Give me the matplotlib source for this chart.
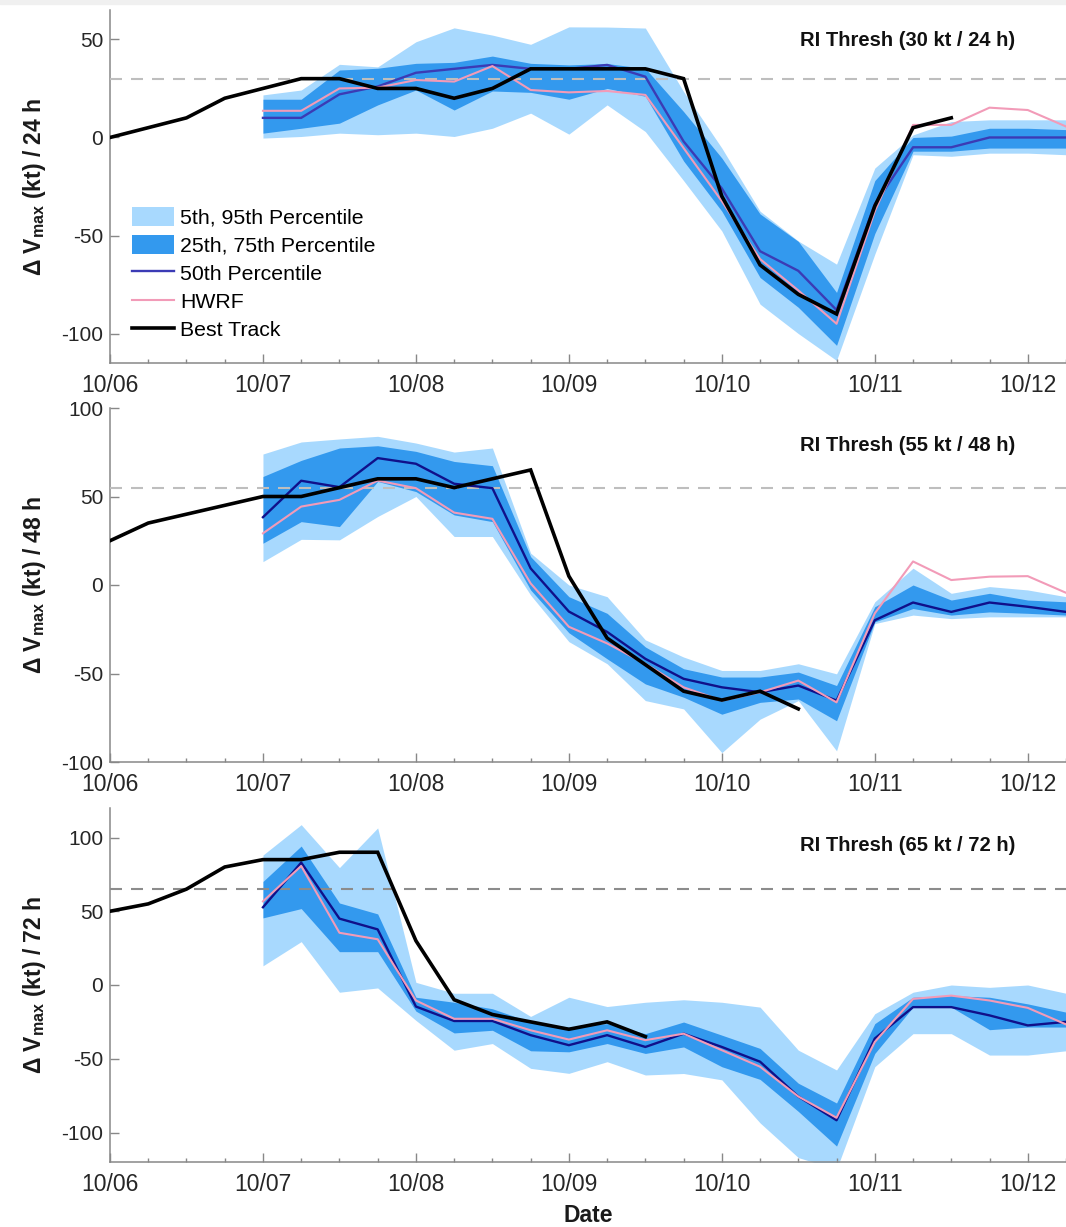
import numpy as np
import matplotlib
matplotlib.use("Agg")
import matplotlib.pyplot as plt
from matplotlib.patches import Patch, Rectangle
from matplotlib.lines import Line2D

plt.rcParams['font.family'] = ['Liberation Sans', 'DejaVu Sans']
plt.rcParams['mathtext.fontset'] = 'custom'
plt.rcParams['mathtext.rm'] = 'Liberation Sans'
plt.rcParams['mathtext.bf'] = 'Liberation Sans:bold'
plt.rcParams['mathtext.it'] = 'Liberation Sans:italic'
plt.rcParams['lines.scale_dashes'] = False

# ---------------- data ----------------
day_labels = ['10/06', '10/07', '10/08', '10/09', '10/10', '10/11', '10/12']
step_days = 0.25          # 6-hourly
ens_start_day = 1.0       # ensemble starts 10/07 00Z
best_start_day = 0.0

# Panel 1: 24 h
best_24 = [0, 5, 10, 20, 25, 30, 30, 25, 25, 20, 25, 35, 35, 35, 35, 30, -30, -65, -80, -90, -35, 5, 10]
p50_24 = [10, 10, 22, 26, 33, 35, 37, 35, 35, 37, 31, -2, -26, -58, -68, -88, -34, -5, -5, 0, 0, 0]
hwrf_24 = [13.6, 13.6, 25, 25.4, 29.3, 28.5, 36.4, 24.2, 23, 23.7, 21.7, -5.4, -32.5, -62, -78, -95, -37.6, 6.4, 6.4, 15.2, 14, 5.6]
p75_24 = [19.5, 19.5, 34.4, 35.3, 37.8, 38.3, 41.5, 37.8, 37, 37.7, 35.2, 13.2, -10.5, -39, -53, -79, -22, 0, 0.7, 4.7, 4.7, 4]
p25_24 = [2.2, 4.7, 7.3, 16.6, 24.2, 14, 23.7, 23, 19.5, 25, 21, -12, -37.6, -71.4, -86.6, -106, -49, -7, -7, -5.4, -5.4, -5.4]
p95_24 = [21.7, 24.2, 37.3, 36, 48.8, 55.9, 52.2, 47.5, 56.4, 56.3, 55.8, 23.4, -5.4, -37.6, -52.8, -64.6, -15.6, 1.3, 8.1, 9, 9, 9]
p05_24 = [-0.3, 0.5, 2.2, 1.4, 2.2, 0.5, 4.7, 12.4, 1.7, 16.6, 3, -22, -47.7, -85, -100, -113.7, -59.5, -8.8, -9.6, -8, -8, -8.8]

# Panel 2: 48 h
best_48 = [25, 35, 40, 45, 50, 50, 55, 60, 60, 55, 60, 65, 5, -30, -45, -60, -65, -60, -70]
p50_48 = [38.3, 58.9, 55.3, 71.7, 68.5, 57.2, 54.7, 9.4, -15, -26.5, -41.7, -53, -57.8, -60.6, -56.8, -65.3, -19.9, -9.9, -15.2, -9.9, -12.3, -15.2]
hwrf_48 = [29.2, 44.3, 48.1, 59, 54.7, 40.9, 37.4, 0.9, -23.6, -33, -44.5, -57.8, -65.3, -60.6, -54, -66.3, -16, 13.3, 2.8, 4.7, 5, -4.4]
p75_48 = [61.3, 70.4, 77.4, 78.7, 75.5, 69.8, 67.4, 16, -6.6, -16, -35, -47.3, -52, -52, -49.2, -56.8, -12.3, 0, -8.5, -4.7, -8.5, -9.5]
p25_48 = [23.6, 35.8, 33, 58.5, 52.8, 39.6, 35.8, -2.8, -27, -41.7, -55.9, -63.4, -73, -66.3, -64.4, -76.7, -20.8, -13.3, -17, -15.2, -16, -17]
p95_48 = [74, 80.8, 82.5, 84, 80.2, 75.1, 77.4, 18, 0, -6.6, -31, -40.7, -48.3, -48.3, -44.5, -50.2, -9.5, 9.5, -4.7, -0.9, -2.8, -6.6]
p05_48 = [13.2, 25.8, 25.5, 38.7, 50, 27.4, 27.4, -5.7, -32, -44.5, -65.3, -70, -94.7, -75.8, -65.3, -93.7, -21.8, -17, -19, -18, -18, -18]

# Panel 3: 72 h
best_72 = [50, 55, 65, 80, 85, 85, 90, 90, 30, -10, -20, -25, -30, -25, -35]
p50_72 = [52.7, 83, 45, 37.7, -14.6, -24.4, -24.4, -34, -40.8, -34, -42, -33, -42, -52, -75.6, -91.7, -36.3, -15, -15, -20.6, -27.4, -25]
hwrf_72 = [56.7, 80.7, 35.4, 31, -10.5, -22.9, -22.9, -30.7, -37, -30.7, -37.4, -33, -44.2, -55.4, -75.6, -90, -38.6, -9.4, -7.2, -10.5, -15.5, -26.7]
p75_72 = [70.2, 94.2, 55.6, 48.2, -8.3, -11.7, -16.1, -25.1, -28.5, -26.2, -33, -25.1, -34, -43, -66.6, -80, -26.2, -8.3, -7.2, -8.3, -12.8, -18.4]
p25_72 = [45.5, 51.8, 22.6, 22.6, -17.7, -32.5, -30.7, -44.6, -45.3, -39.7, -46.4, -42, -55.4, -64, -85.7, -109.2, -46.4, -15, -15, -30.3, -28.5, -28.5]
p95_72 = [88.1, 108.7, 79.6, 106.5, 1.8, -5.6, -5.6, -21.3, -8.3, -14.6, -11.7, -10, -11.7, -15, -44.2, -57.6, -19.5, -4.9, 0, -1.6, 0, -5.6]
p05_72 = [13, 29.4, -4.9, -2, -24, -44.2, -39.7, -56.5, -59.9, -52, -61, -60, -64.3, -93.5, -117, -125, -55.4, -33, -33, -47.5, -47.5, -44.6]

thresholds = [30, 55, 65]
thresh_labels = ['RI Thresh (30 kt / 24 h)', 'RI Thresh (55 kt / 48 h)', 'RI Thresh (65 kt / 72 h)']
ylabels = ['Δ V$_{\\mathbf{max}}$ (kt) / 24 h', 'Δ V$_{\\mathbf{max}}$ (kt) / 48 h', 'Δ V$_{\\mathbf{max}}$ (kt) / 72 h']
ylims = [(-115, 65), (-100, 100), (-120, 120)]
yticks = [[-100, -50, 0, 50], [-100, -50, 0, 50, 100], [-100, -50, 0, 50, 100]]
legend_labels = ['5th, 95th Percentile', '25th, 75th Percentile', '50th Percentile', 'HWRF', 'Best Track']

# ---------------- style ----------------
c_light = '#A8D9FE'
c_dark = '#3399EE'
c_p50 = ['#3B3BB5', '#10108A', '#10108A']
c_hwrf = '#F29BB8'
c_best = '#000000'
c_thresh = ['#BEBEBE', '#BEBEBE', '#8C8C8C']
c_axis = '#888888'

W, H = 1066, 1227
fig = plt.figure(figsize=(W / 100, H / 100), dpi=100)
fig.patches.append(Rectangle((0, 1 - 4 / H), 1, 4 / H, transform=fig.transFigure,
                             color='#F0F0F0', zorder=0))

panel_px = [(10, 363), (408, 762), (808, 1162)]
ax_left, ax_right = 110, 1066
thresh_text_y = [0.915, 0.895, 0.895]

panels = [
    (best_24, p50_24, hwrf_24, p25_24, p75_24, p05_24, p95_24),
    (best_48, p50_48, hwrf_48, p25_48, p75_48, p05_48, p95_48),
    (best_72, p50_72, hwrf_72, p25_72, p75_72, p05_72, p95_72),
]

for i, (best, p50, hwrf, p25, p75, p05, p95) in enumerate(panels):
    top, bot = panel_px[i]
    ax = fig.add_axes([ax_left / W, 1 - bot / H, (ax_right - ax_left) / W, (bot - top) / H])
    xe = ens_start_day + step_days * np.arange(len(p50))
    xb = best_start_day + step_days * np.arange(len(best))

    ax.fill_between(xe, p05, p95, color=c_light, lw=0, zorder=1)
    ax.fill_between(xe, p25, p75, color=c_dark, lw=0, zorder=2)
    ax.axhline(thresholds[i], color=c_thresh[i], lw=1.5, dashes=(12 * 0.72, 9 * 0.72), zorder=3)
    ax.plot(xe, p50, color=c_p50[i], lw=1.7, zorder=4)
    ax.plot(xe, hwrf, color=c_hwrf, lw=1.5, zorder=5)
    ax.plot(xb, best, color=c_best, lw=2.6, zorder=6, solid_joinstyle='miter')

    ax.set_xlim(0, 6.25)
    ax.set_ylim(*ylims[i])
    ax.set_xticks(np.arange(len(day_labels)))
    ax.set_xticklabels(day_labels)
    ax.set_xticks(np.arange(0, 6.26, step_days), minor=True)
    ax.set_yticks(yticks[i])
    ax.set_yticklabels([str(v) for v in yticks[i]])

    for s in ['top', 'right']:
        ax.spines[s].set_visible(False)
    for s in ['left', 'bottom']:
        ax.spines[s].set_color(c_axis)
        ax.spines[s].set_linewidth(1.1)
    ax.tick_params(axis='both', which='major', direction='in', length=6.5, width=1.0,
                   color=c_axis, labelcolor='#262626')
    ax.tick_params(axis='x', which='major', pad=8, labelsize=16.5)
    ax.tick_params(axis='y', which='major', pad=5, labelsize=15)
    ax.tick_params(axis='x', which='minor', direction='in', length=3.2, width=1.0, color=c_axis)

    ax.set_ylabel(ylabels[i], fontsize=16.5, fontweight='bold', color='#1a1a1a', va='center')
    ax.yaxis.set_label_coords(-75 / 956, 0.5)

    ax.text(0.834, thresh_text_y[i], thresh_labels[i], transform=ax.transAxes,
            ha='center', va='center', fontsize=14.5, fontweight='bold', color='#111111')

    if i == 0:
        handles = [Patch(facecolor=c_light, edgecolor='none'),
                   Patch(facecolor=c_dark, edgecolor='none'),
                   Line2D([], [], color=c_p50[0], lw=1.7),
                   Line2D([], [], color=c_hwrf, lw=1.5),
                   Line2D([], [], color=c_best, lw=2.6)]
        ax.legend(handles, legend_labels, loc='upper left', bbox_to_anchor=(0.023, 0.443),
                  frameon=False, fontsize=15.3, handlelength=2.0, handleheight=1.05,
                  handletextpad=0.25, labelspacing=0.33, borderpad=0, borderaxespad=0)

fig.text(588 / W, 1 - 1216 / H, 'Date', ha='center', va='center', fontsize=16.5,
         fontweight='bold', color='#1a1a1a')

fig.savefig('out.png', dpi=100)
